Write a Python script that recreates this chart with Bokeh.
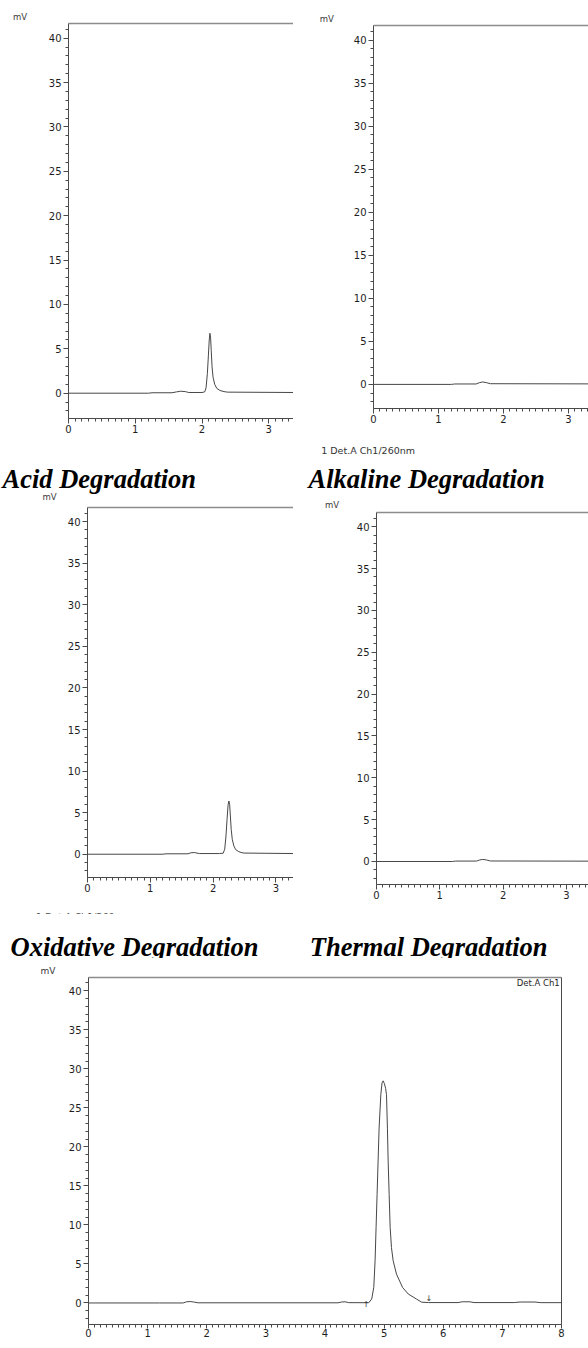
from bokeh.plotting import figure
from bokeh.models import Range1d, LinearAxis, SingleIntervalTicker, FixedTicker, Label, ColumnDataSource
from bokeh.layouts import column, row
from bokeh.embed import file_html
from bokeh.resources import INLINE
from bokeh.core.properties import value

# ---------------- data (retention time in min, signal in mV) ----------------
acid_t = [0.00, 1.20, 1.25, 1.55, 1.62, 1.68, 1.75, 1.80, 2.00, 2.04, 2.06, 2.08, 2.095, 2.108,
          2.118, 2.128, 2.138, 2.15, 2.165, 2.19, 2.22, 2.27, 2.33, 2.38, 3.37]
acid_mv = [0.00, 0.00, 0.05, 0.05, 0.15, 0.22, 0.18, 0.08, 0.08, 0.15, 0.60, 2.20, 4.20, 6.00,
           6.75, 6.30, 4.80, 3.00, 1.80, 1.00, 0.55, 0.30, 0.18, 0.12, 0.08]

alk_t = [0.00, 1.20, 1.25, 1.58, 1.63, 1.68, 1.74, 1.80, 3.31]
alk_mv = [0.00, 0.00, 0.05, 0.05, 0.20, 0.28, 0.20, 0.08, 0.06]

ox_t = [0.00, 1.20, 1.25, 1.60, 1.65, 1.70, 1.78, 2.10, 2.16, 2.185, 2.205, 2.222, 2.238, 2.251,
        2.263, 2.275, 2.288, 2.305, 2.33, 2.36, 2.41, 2.46, 2.49, 3.28]
ox_mv = [0.00, 0.00, 0.05, 0.05, 0.18, 0.20, 0.08, 0.08, 0.12, 0.60, 2.20, 4.20, 5.90, 6.40,
         6.00, 4.60, 3.00, 1.80, 1.00, 0.55, 0.30, 0.18, 0.14, 0.08]

th_t = [0.00, 1.20, 1.25, 1.58, 1.63, 1.68, 1.74, 1.80, 3.35]
th_mv = [0.00, 0.00, 0.05, 0.05, 0.18, 0.25, 0.18, 0.06, 0.04]

std_t = [0.00, 1.20, 1.60, 1.66, 1.72, 1.78, 1.85, 4.22, 4.28, 4.34, 4.40, 4.74, 4.79, 4.825,
         4.847, 4.864, 4.881, 4.898, 4.915, 4.944, 4.965, 4.983, 5.005, 5.025, 5.040, 5.056,
         5.068, 5.085, 5.102, 5.124, 5.153, 5.209, 5.311, 5.407, 5.548, 5.633, 5.75, 6.25,
         6.32, 6.45, 6.52, 7.20, 7.30, 7.55, 7.65, 8.00]
std_mv = [0.00, 0.00, 0.00, 0.15, 0.18, 0.12, 0.02, 0.02, 0.12, 0.15, 0.04, 0.03, 0.50, 2.00,
          5.40, 9.70, 13.9, 18.2, 22.4, 26.7, 28.2, 28.46, 28.1, 27.5, 26.7, 22.4,
          18.2, 13.9, 9.70, 7.10, 5.40, 3.70, 2.00, 1.15, 0.50, 0.10, 0.05, 0.05,
          0.15, 0.15, 0.05, 0.05, 0.12, 0.12, 0.04, 0.04]

# integration start / end markers of the standard run
evt_t = [4.695, 5.757]
evt_sym = ["\u2191", "\u2193"]
evt_y = [-0.8, 0.0]

titles = ["Acid Degradation", "Alkaline Degradation", "Oxidative Degradation", "Thermal Degradation"]
det_text = "1 Det.A Ch1/260nm"
y_unit = "mV"
x_unit = "min"
std_tag = "Det.A Ch1"

AX = "#4a4a4a"
TXT = "#1e1e1e"
TRACE = "#474747"
TICKFONT = "DejaVu Sans"
TFONT = "Liberation Serif"
TSIZE = "26.5px"


def chart(w, h, bl, br, bt, bb, xmax, ymin, ymax, t, mv, right_border=False, x_tick_out=5,
          x_standoff=1):
    p = figure(width=w, height=h, x_range=Range1d(0, xmax), y_range=Range1d(ymin, ymax),
               output_backend="svg", toolbar_location=None, frame_align=False,
               min_border_left=bl, min_border_right=br, min_border_top=bt, min_border_bottom=bb)
    p.grid.visible = False
    p.outline_line_color = None
    p.background_fill_color = "white"
    p.border_fill_color = "white"

    p.xaxis.ticker = SingleIntervalTicker(interval=1, num_minor_ticks=10)
    p.yaxis.ticker = SingleIntervalTicker(interval=5, num_minor_ticks=5)
    for ax in (p.xaxis[0], p.yaxis[0]):
        ax.axis_line_color = AX
        ax.major_tick_line_color = AX
        ax.minor_tick_line_color = AX
        ax.major_tick_in = 0
        ax.minor_tick_in = 0
        ax.major_label_text_font = TICKFONT
        ax.major_label_text_font_size = "10px"
        ax.major_label_text_color = TXT
    p.yaxis.major_tick_out = 5
    p.yaxis.minor_tick_out = 3
    p.yaxis.major_label_standoff = 2
    p.xaxis.major_tick_out = x_tick_out
    p.xaxis.minor_tick_out = 3
    p.xaxis.major_label_standoff = x_standoff

    top = LinearAxis(ticker=FixedTicker(ticks=[]), axis_line_color="#8c8c8c", axis_line_width=1.5,
                     major_tick_line_color=None, minor_tick_line_color=None,
                     major_label_text_font_size="0px", major_label_standoff=0,
                     major_tick_out=0, minor_tick_out=0)
    p.add_layout(top, "above")
    if right_border:
        rb = LinearAxis(ticker=FixedTicker(ticks=[]), axis_line_color=AX, axis_line_width=1,
                        major_tick_line_color=None, minor_tick_line_color=None,
                        major_label_text_font_size="0px", major_label_standoff=0,
                        major_tick_out=0, minor_tick_out=0)
        p.add_layout(rb, "right")

    src = ColumnDataSource(dict(t=t, mv=mv))
    p.line("t", "mv", source=src, line_color=TRACE, line_width=1)
    return p


def strip(w, h, items):
    """A text band: pixel coordinates, y pointing down."""
    s = figure(width=w, height=h, x_range=Range1d(0, w), y_range=Range1d(h, 0),
               x_axis_type=None, y_axis_type=None, output_backend="svg",
               toolbar_location=None, min_border=0, frame_align=False)
    s.outline_line_color = None
    s.background_fill_color = "white"
    s.border_fill_color = "white"
    for it in items:
        s.add_layout(Label(x=it["x"], y=it["y"], text=it["text"],
                           text_font=it.get("font", TICKFONT),
                           text_font_size=it.get("size", "10px"),
                           text_color=it.get("color", TXT),
                           text_font_style=it.get("style", "normal"),
                           text_align=it.get("align", "left"),
                           text_baseline=it.get("baseline", "alphabetic")))
    return s


def unit(x, y, size="8.5px"):
    return dict(x=x, y=y, text=y_unit, size=size, color="#3a3a3a", baseline="middle")


def det(x, y, color):
    return dict(x=x, y=y, text=det_text, size="9.5px", color=color)


def title(x, y, i):
    return dict(x=x, y=y, text=titles[i], font=TFONT, size=TSIZE, style="bold italic",
                color="black")


# ---------------- column A (acid / oxidative) ----------------
A_top = strip(293, 22, [unit(12.5, 16)])
pA = chart(293, 418, 68, 0, 1, 22, 3.37, -2.85, 41.65, acid_t, acid_mv)
A_s1 = strip(293, 12, [det(35, 15, "#6e6e6e")])
A_s2 = strip(293, 50, [title(2, 26, 0), unit(42, 44)])
pC = chart(293, 396, 87, 0, 5, 21, 3.28, -2.8, 41.7, ox_t, ox_mv)
C_s1 = strip(293, 16, [det(35.5, 17.5, "#555555")])
C_s2 = strip(293, 44, [title(10, 32, 2)])
colA = column(A_top, pA, A_s1, A_s2, pC, C_s1, C_s2)

# ---------------- column B (alkaline / thermal) ----------------
B_top = strip(295, 24, [unit(26.3, 18.8)])
pB = chart(295, 408, 80, 0, 1, 24, 3.31, -2.8, 41.7, alk_t, alk_mv)
B_s = strip(295, 78, [det(27.7, 17.5, "#333333"), title(15, 46, 1), unit(31.5, 72.5)])
pD = chart(295, 394, 83, 0, 2, 20, 3.35, -2.75, 41.7, th_t, th_mv)
D_s1 = strip(295, 15, [det(32, 19.5, "#9a9a9a")])
D_s2 = strip(295, 39, [title(16.3, 27, 3)])
colB = column(B_top, pB, B_s, pD, D_s1, D_s2)

# ---------------- standard chromatogram ----------------
E_top = strip(588, 18, [unit(40, 12.5, size="9px")])
pE = chart(588, 365, 88, 27, 1, 17, 8.0, -2.76, 41.7, std_t, std_mv, right_border=True,
           x_tick_out=4, x_standoff=0)
pE.add_layout(Label(x=7.97, y=40.95, text=std_tag, text_font=TICKFONT, text_font_size="8.5px",
                    text_color=TXT, text_align="right", text_baseline="middle"))
esrc = ColumnDataSource(dict(t=evt_t, y=evt_y, s=evt_sym))
pE.text("t", "y", text="s", source=esrc, text_font=value("DejaVu Sans"), text_font_size="8px",
        text_color="#333333", text_align="center", text_baseline="bottom")
E_bot = strip(588, 7, [dict(x=555, y=8, text=x_unit, size="10px", align="center")])

layout = column(row(colA, colB), E_top, pE, E_bot)
open("out.html", "w").write(file_html(layout, INLINE))
